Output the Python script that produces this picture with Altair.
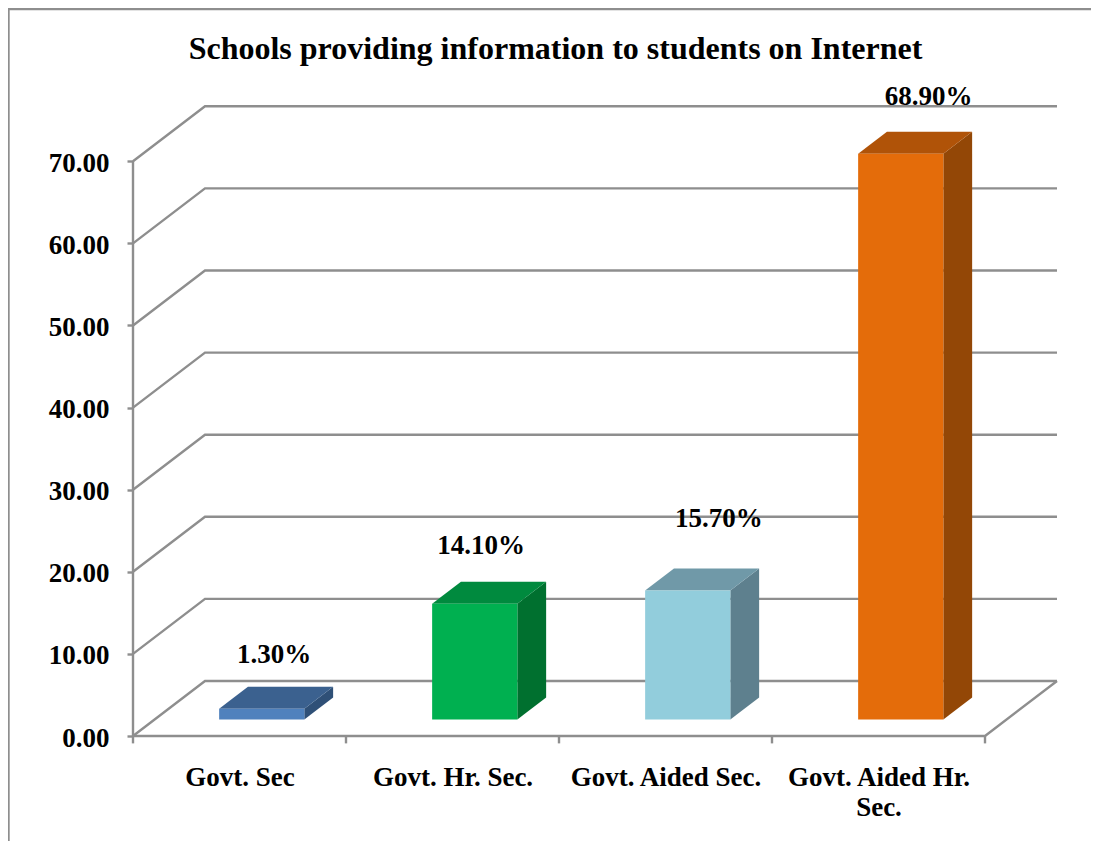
import altair as alt
import pandas as pd

title_text = "Schools providing information to students on Internet"
categories = ["Govt. Sec", "Govt. Hr. Sec.", "Govt. Aided Sec.", "Govt. Aided Hr.|Sec."]
values = [1.3, 14.1, 15.7, 68.9]
value_labels = ["1.30%", "14.10%", "15.70%", "68.90%"]
label_x = [0.662, 1.634, 2.75, 3.735]
label_y = [8.9, 22.2, 25.5, 76.8]
front_colors = ["#4F81BD", "#00B050", "#92CDDC", "#E46C0A"]
top_colors = ["#3B618F", "#008A3E", "#7099A8", "#B05308"]
side_colors = ["#2F5077", "#00702F", "#5E808E", "#934706"]
y_ticks = [0, 10, 20, 30, 40, 50, 60, 70]
x_ticks = [0, 1, 2, 3, 4]

# oblique projection of the chart's depth axis, in data units
PX_PER_CAT = 213
PX_PER_VAL = 8.21
DX = 72 / PX_PER_CAT
DY = 55 / PX_PER_VAL
BAR_L, BAR_W = 0.303, 0.4
DEPTH_0, DEPTH_1 = 0.30, 0.70

GRID = "#8E8E8E"
LINE_W = 2.4
FONT = "Liberation Serif"
W, H = 940, 675
sx = alt.Scale(domain=[0, W / PX_PER_CAT], nice=False, zero=False)
sy = alt.Scale(domain=[0, H / PX_PER_VAL], nice=False, zero=False)

names_js = "[" + ",".join(f"'{c}'" for c in categories) + "]"
x_axis = alt.Axis(
    values=[i + 0.5 for i in range(len(categories))],
    labelExpr=f"split({names_js}[floor(datum.value)], '|')",
    ticks=False, domain=False, grid=False, title=None,
    labelFont=FONT, labelFontSize=27, labelFontWeight="bold", labelColor="#000000",
    labelPadding=28, labelOverlap=False, labelBound=False, labelFlush=False, labelLimit=0,
    labelLineHeight=30, labelAngle=0, labelBaseline="top", labelAlign="center",
)
y_axis = alt.Axis(
    values=y_ticks, format=".2f", domain=False, grid=False, title=None,
    tickColor=GRID, tickWidth=LINE_W, tickSize=6,
    labelFont=FONT, labelFontSize=27, labelFontWeight="bold", labelColor="#000000",
    labelPadding=18, labelOffset=2, labelOverlap=False, labelBound=False, labelFlush=False,
)


def X(name="x"):
    return alt.X(f"{name}:Q", scale=sx, axis=x_axis)


def Y(name="y"):
    return alt.Y(f"{name}:Q", scale=sy, axis=y_axis)


layers = []

# wall and side-wall grid lines
grid_rows = []
for v in y_ticks:
    for i, (gx, gy) in enumerate([(0, v), (DX, v + DY), (x_ticks[-1] + DX, v + DY)]):
        grid_rows.append({"k": v, "i": i, "x": gx, "y": gy})
layers.append(
    alt.Chart(pd.DataFrame(grid_rows))
    .mark_line(color=GRID, strokeWidth=LINE_W)
    .encode(x=X(), y=Y(), detail="k:N", order="i:Q")
)

# floor front and right edges
floor = pd.DataFrame(
    {"x": [0, x_ticks[-1], x_ticks[-1] + DX], "y": [0, 0, DY], "i": [0, 1, 2]}
)
layers.append(
    alt.Chart(floor).mark_line(color=GRID, strokeWidth=LINE_W).encode(x=X(), y=Y(), order="i:Q")
)

# vertical value axis line
layers.append(
    alt.Chart(pd.DataFrame({"x": [0], "y": [y_ticks[0]], "y2": [y_ticks[-1]]}))
    .mark_rule(color=GRID, strokeWidth=LINE_W)
    .encode(x=X(), y=Y(), y2="y2:Q")
)

# category tick marks
layers.append(
    alt.Chart(pd.DataFrame({"x": x_ticks, "y": [0] * 5, "y2": [-0.9] * 5}))
    .mark_rule(color=GRID, strokeWidth=LINE_W)
    .encode(x=X(), y=Y(), y2="y2:Q")
)

# bars: three faces each
for i, v in enumerate(values):
    xl = i + BAR_L + DEPTH_0 * DX
    xr = xl + BAR_W
    base = DEPTH_0 * DY
    dx = (DEPTH_1 - DEPTH_0) * DX
    dy = (DEPTH_1 - DEPTH_0) * DY

    side = pd.DataFrame({"x": [xr, xr + dx], "y": [base + v, base + v + dy], "y2": [base, base + dy]})
    layers.append(
        alt.Chart(side).mark_area(color=side_colors[i], opacity=1).encode(x=X(), y=Y(), y2="y2:Q")
    )
    top = pd.DataFrame({"y": [base + v, base + v + dy], "x": [xl, xl + dx], "x2": [xr, xr + dx]})
    layers.append(
        alt.Chart(top)
        .mark_area(color=top_colors[i], opacity=1, orient="horizontal")
        .encode(y=Y(), x=X(), x2="x2:Q")
    )
    front = pd.DataFrame({"x": [xl, xr], "y": [base + v, base + v], "y2": [base, base]})
    layers.append(
        alt.Chart(front).mark_area(color=front_colors[i], opacity=1).encode(x=X(), y=Y(), y2="y2:Q")
    )

# value labels
layers.append(
    alt.Chart(pd.DataFrame({"x": label_x, "y": label_y, "t": value_labels}))
    .mark_text(font=FONT, fontSize=27, fontWeight="bold", color="#000000", align="center", baseline="alphabetic")
    .encode(x=X(), y=Y(), text="t:N")
)

# chart title, placed as a text mark
layers.append(
    alt.Chart(pd.DataFrame({"t": [title_text]}))
    .mark_text(font=FONT, fontSize=32, fontWeight="bold", color="#000000", align="center", baseline="alphabetic")
    .encode(x=alt.value(422.5), y=alt.value(-2), text="t:N")
)

# outer frame of the chart (left and top edges)
layers.append(
    alt.Chart(pd.DataFrame({"a": [0]}))
    .mark_rule(color=GRID, strokeWidth=LINE_W)
    .encode(x=alt.value(-124.5), y=alt.value(-52), y2=alt.value(H + 105))
)
layers.append(
    alt.Chart(pd.DataFrame({"a": [0]}))
    .mark_rule(color=GRID, strokeWidth=LINE_W)
    .encode(x=alt.value(-125), x2=alt.value(W + 18), y=alt.value(-52))
)

chart = (
    alt.layer(*layers)
    .properties(
        width=W,
        height=H,
        padding={"left": 125, "top": 53, "right": 18, "bottom": 105},
        autosize=alt.AutoSizeParams(type="none"),
    )
    .configure_view(stroke=None)
)

chart.save("out.html", embed_options={"renderer": "svg", "actions": False})
